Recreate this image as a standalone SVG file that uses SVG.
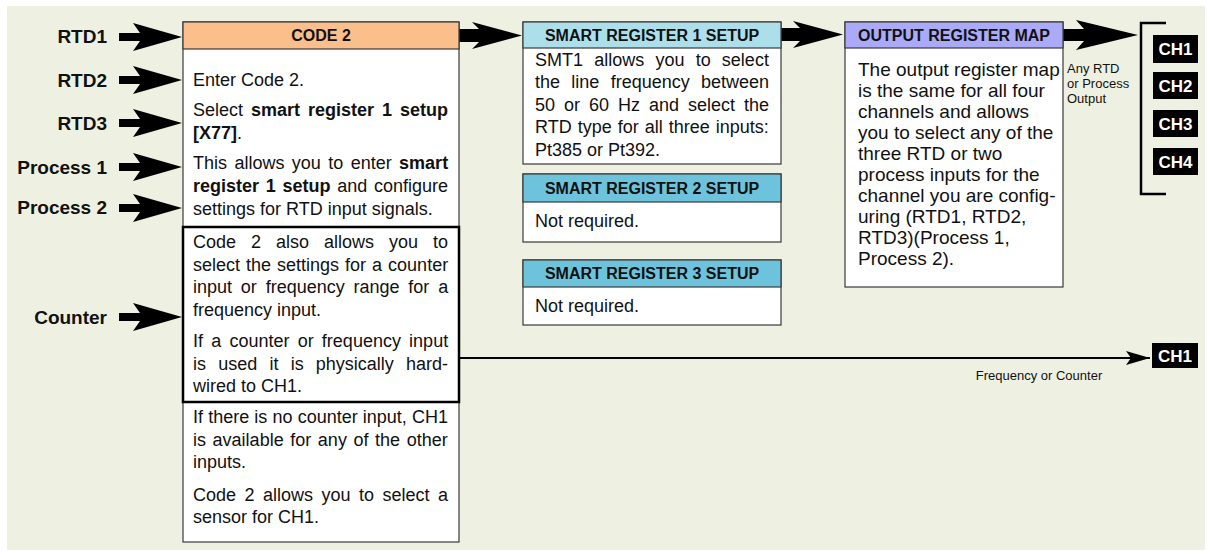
<svg xmlns="http://www.w3.org/2000/svg" xmlns:xlink="http://www.w3.org/1999/xlink" width="1212" height="556" viewBox="0 0 1212 556">
<defs>
<style>
text{font-family:"Liberation Sans",Arial,Helvetica,sans-serif;fill:#111}
.box{fill:#fff;stroke:#3a3a3a;stroke-width:1.2}
.hdr{font-size:16px;font-weight:bold;text-anchor:middle}
.t18{font-size:18px}
.t19{font-size:19px}
.lbl{font-size:19px;font-weight:bold;text-anchor:end}
.ch{font-size:17px;font-weight:bold;text-anchor:middle;fill:#fff}
.sm{font-size:13px}
.b{font-weight:bold}
.arr{fill:#000}
</style>
<polygon id="inArrow" points="-63,-4 -42,-4 -49,-14 0,0 -49,14 -42,4 -63,4"/>
<marker id="lineHead" markerUnits="userSpaceOnUse" markerWidth="26" markerHeight="18" refX="24" refY="8" orient="auto">
<polygon points="0,1 24,8 0,15 5,8" fill="#000"/>
</marker>
</defs>
<rect x="7" y="6" width="1198" height="544" fill="#EEF1E1"/>

<g id="inputs">
<text class="lbl" x="107" y="43">RTD1</text>
<text class="lbl" x="107" y="87">RTD2</text>
<text class="lbl" x="107" y="130">RTD3</text>
<text class="lbl" x="107" y="174">Process 1</text>
<text class="lbl" x="107" y="214">Process 2</text>
<text class="lbl" x="107" y="324">Counter</text>
</g>

<g id="connectors">
<use xlink:href="#inArrow" class="arr" transform="translate(182,37)"/>
<use xlink:href="#inArrow" class="arr" transform="translate(182,80)"/>
<use xlink:href="#inArrow" class="arr" transform="translate(182,123)"/>
<use xlink:href="#inArrow" class="arr" transform="translate(182,167)"/>
<use xlink:href="#inArrow" class="arr" transform="translate(182,208)"/>
<use xlink:href="#inArrow" class="arr" transform="translate(182,317)"/>
<polygon class="arr" points="459,29 479,29 472,22 522,35.5 472,49 479,42 459,42"/>
<polygon class="arr" points="781,28 800,28 793,21 843,34.5 793,48 800,41 781,41"/>
<polygon class="arr" points="1063,29 1084,29 1076,20 1138,35 1076,50 1084,41 1063,41"/>
<line x1="459" y1="358" x2="1150" y2="358" stroke="#000" stroke-width="2" marker-end="url(#lineHead)"/>
<text class="sm" x="1039" y="380" text-anchor="middle">Frequency or Counter</text>
<text class="sm" x="1067" y="73">Any RTD</text>
<text class="sm" x="1067" y="88">or Process</text>
<text class="sm" x="1067" y="103">Output</text>
</g>

<g id="code2">
<rect class="box" x="183" y="22" width="276" height="520"/>
<rect x="183" y="22" width="276" height="27" fill="#FBBF8C" stroke="#3a3a3a" stroke-width="1.2"/>
<text class="hdr" x="321" y="41">CODE 2</text>
<rect x="183" y="227" width="276" height="175" fill="none" stroke="#000" stroke-width="2.5"/>
<text class="t18" x="193" y="86">Enter Code 2.</text>
<text class="t18" x="193" y="116" word-spacing="3">Select <tspan class="b">smart register 1 setup</tspan></text>
<text class="t18" x="193" y="139"><tspan class="b">[X77]</tspan>.</text>
<text class="t18" x="193" y="169" word-spacing="2.4">This allows you to enter <tspan class="b">smart</tspan></text>
<text class="t18" x="193" y="192" word-spacing="1.7"><tspan class="b">register 1 setup</tspan> and configure</text>
<text class="t18" x="193" y="215">settings for RTD input signals.</text>
<text class="t18" x="193" y="248" word-spacing="10">Code 2 also allows you to</text>
<text class="t18" x="193" y="271" word-spacing="1">select the settings for a counter</text>
<text class="t18" x="193" y="293" word-spacing="3.8">input or frequency range for a</text>
<text class="t18" x="193" y="316">frequency input.</text>
<text class="t18" x="193" y="347" word-spacing="3.2">If a counter or frequency input</text>
<text class="t18" x="193" y="370" word-spacing="7.2">is used it is physically hard-</text>
<text class="t18" x="193" y="392">wired to CH1.</text>
<text class="t18" x="193" y="423" word-spacing="0.15">If there is no counter input, CH1</text>
<text class="t18" x="193" y="446" word-spacing="1.6">is available for any of the other</text>
<text class="t18" x="193" y="468">inputs.</text>
<text class="t18" x="193" y="501" word-spacing="3.5">Code 2 allows you to select a</text>
<text class="t18" x="193" y="523">sensor for CH1.</text>
</g>

<g id="smart1">
<rect class="box" x="523" y="22" width="258" height="142"/>
<rect x="523" y="22" width="258" height="26" fill="#ADDFEB" stroke="#3a3a3a" stroke-width="1.2"/>
<text class="hdr" x="652" y="41">SMART REGISTER 1 SETUP</text>
<text class="t18" x="535" y="66" word-spacing="6.2">SMT1 allows you to select</text>
<text class="t18" x="535" y="88" word-spacing="6.3">the line frequency between</text>
<text class="t18" x="535" y="111" word-spacing="4">50 or 60 Hz and select the</text>
<text class="t18" x="535" y="133" word-spacing="1">RTD type for all three inputs:</text>
<text class="t18" x="535" y="156">Pt385 or Pt392.</text>
</g>

<g id="smart2">
<rect class="box" x="523" y="174" width="258" height="68"/>
<rect x="523" y="174" width="258" height="28" fill="#6EC3DC" stroke="#3a3a3a" stroke-width="1.2"/>
<text class="hdr" x="652" y="194">SMART REGISTER 2 SETUP</text>
<text class="t18" x="535" y="227">Not required.</text>
</g>

<g id="smart3">
<rect class="box" x="523" y="260" width="258" height="65"/>
<rect x="523" y="260" width="258" height="27" fill="#6EC3DC" stroke="#3a3a3a" stroke-width="1.2"/>
<text class="hdr" x="652" y="279">SMART REGISTER 3 SETUP</text>
<text class="t18" x="535" y="312">Not required.</text>
</g>

<g id="outmap">
<rect class="box" x="845" y="22" width="218" height="265"/>
<rect x="845" y="22" width="218" height="26" fill="#AAAAF8" stroke="#3a3a3a" stroke-width="1.2"/>
<text class="hdr" x="954" y="41">OUTPUT REGISTER MAP</text>
<text class="t19" x="858" y="76">The output register map</text>
<text class="t19" x="858" y="97">is the same for all four</text>
<text class="t19" x="858" y="118">channels and allows</text>
<text class="t19" x="858" y="139">you to select any of the</text>
<text class="t19" x="858" y="160">three RTD or two</text>
<text class="t19" x="858" y="181">process inputs for the</text>
<text class="t19" x="858" y="202">channel you are config-</text>
<text class="t19" x="858" y="223">uring (RTD1, RTD2,</text>
<text class="t19" x="858" y="244">RTD3)(Process 1,</text>
<text class="t19" x="858" y="265">Process 2).</text>
</g>

<g id="channels">
<path d="M1166,23 H1141 V194 H1166" fill="none" stroke="#000" stroke-width="2.5"/>
<rect x="1153" y="35" width="45" height="28" fill="#000"/>
<text class="ch" x="1175.5" y="55">CH1</text>
<rect x="1153" y="72" width="45" height="27" fill="#000"/>
<text class="ch" x="1175.5" y="92">CH2</text>
<rect x="1153" y="110" width="45" height="27" fill="#000"/>
<text class="ch" x="1175.5" y="130">CH3</text>
<rect x="1153" y="148" width="45" height="27" fill="#000"/>
<text class="ch" x="1175.5" y="168">CH4</text>
</g>

<g id="ch1counter">
<rect x="1152" y="343" width="46" height="25" fill="#000"/>
<text class="ch" x="1175" y="362">CH1</text>
</g>
</svg>
